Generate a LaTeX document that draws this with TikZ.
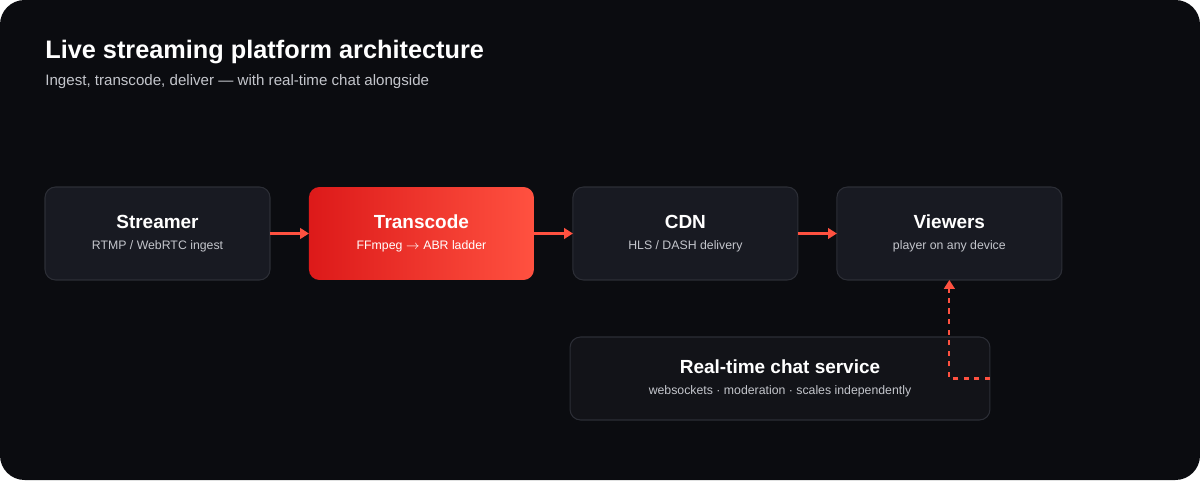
\documentclass[tikz,border=0pt]{standalone}
\usepackage{fontspec}
\setmainfont{Liberation Sans}
\usetikzlibrary{arrows.meta,positioning}
\definecolor{bgdark}{HTML}{0B0C10}
\definecolor{boxfill}{HTML}{181A22}
\definecolor{boxline}{HTML}{2C2E36}
\definecolor{chatfill}{HTML}{121318}
\definecolor{accent}{HTML}{FF5140}
\definecolor{subgray}{HTML}{C4C6CC}

\begin{document}
\begin{tikzpicture}[x=0.02cm,y=-0.02cm,
    stage/.style={draw=boxline,line width=0.6pt,fill=boxfill,rounded corners=6pt,
        minimum width=4.5cm,minimum height=1.86cm,align=center,text=white,outer sep=0pt},
    flow/.style={-{Triangle[length=5pt,width=6pt]},draw=accent,line width=1.2pt},
    side/.style={flow,dashed,dash pattern=on 3pt off 3pt}]
        \fill[bgdark,rounded corners=14pt] (0,0) rectangle (1200,480);
        \useasboundingbox (0,0) rectangle (1200,480);

        \node[anchor=west,inner sep=0pt,text=white,font=\bfseries\fontsize{14.4}{17}\selectfont] (title) at (45,52) {Live streaming platform architecture};
        \node[anchor=west,inner sep=0pt,text=subgray,font=\fontsize{8.6}{11}\selectfont] (sub) at (45,82) {Ingest, transcode, deliver — with real-time chat alongside};

        \node[stage] (streamer) at (157.5,233.5) {{\bfseries\fontsize{10.8}{14}\selectfont Streamer}\\[0pt]{\color{subgray}\fontsize{7}{9}\selectfont RTMP / WebRTC ingest}};
        \node[stage,draw=none,left color=red!85!black!90,right color=accent] (transcode) [right=0.78cm of streamer] {{\bfseries\fontsize{10.8}{14}\selectfont Transcode}\\[0pt]{\fontsize{7}{9}\selectfont FFmpeg $\rightarrow$ ABR ladder}};
        \node[stage] (cdn) [right=0.78cm of transcode] {{\bfseries\fontsize{10.8}{14}\selectfont CDN}\\[0pt]{\color{subgray}\fontsize{7}{9}\selectfont HLS / DASH delivery}};
        \node[stage] (viewers) [right=0.78cm of cdn] {{\bfseries\fontsize{10.8}{14}\selectfont Viewers}\\[0pt]{\color{subgray}\fontsize{7}{9}\selectfont player on any device}};
        \node[stage,fill=chatfill,minimum width=8.4cm,minimum height=1.66cm] (chat) at (780,378.5) {{\bfseries\fontsize{10.8}{14}\selectfont Real-time chat service}\\[0pt]{\color{subgray}\fontsize{7}{9}\selectfont websockets · moderation · scales independently}};

        \draw[flow] (streamer) -- (transcode);
        \draw[flow] (transcode) -- (cdn);
        \draw[flow] (cdn) -- (viewers);
        \coordinate (bend) at (viewers.south |- chat.east);
        \draw[side] (chat.east) -- (bend) -- (viewers.south);
\end{tikzpicture}
\end{document}
